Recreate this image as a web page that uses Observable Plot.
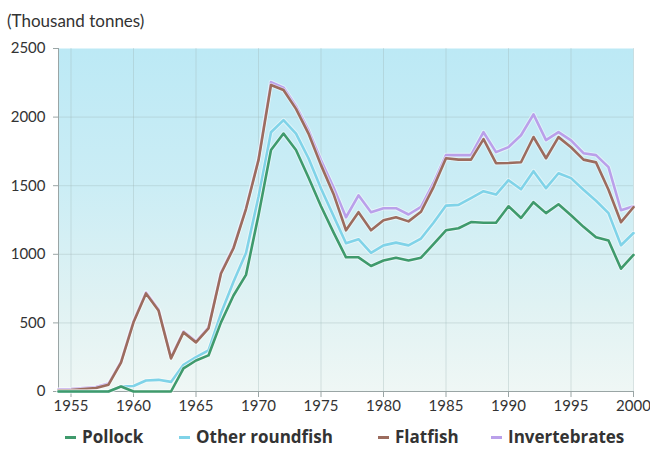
<!DOCTYPE html>
<html><head><meta charset="utf-8">
<script src="https://cdn.jsdelivr.net/npm/d3@7"></script>
<script src="https://cdn.jsdelivr.net/npm/@observablehq/plot@0.6"></script>
<style>
body{margin:0;background:#fff;font-family:Lato,"Open Sans",sans-serif;}
#wrap{position:relative;width:650px;height:453px;overflow:hidden;}
#title{position:absolute;left:7px;top:12px;font-size:17px;color:#333;line-height:18px;}
#chart{position:absolute;left:0;top:30px;}
.leg{position:absolute;top:428px;font-family:"Open Sans",sans-serif;font-size:17px;font-weight:bold;color:#333;display:flex;align-items:center;line-height:18px;}
.leg .sw{display:inline-block;width:11px;height:3px;margin-right:6px;}
</style></head><body>
<div id="wrap">
<div id="title">(Thousand tonnes)</div>
<div id="chart"></div>
<div id="legend"></div>
</div>
<script>
const years = d3.range(1954, 2001);
const seriesNames = ["Pollock", "Other roundfish", "Flatfish", "Invertebrates"];
const seriesColors = ["#3f9a6c", "#80d3e8", "#9c6c5e", "#baa0ea"];
const xTicks = [1955,1960,1965,1970,1975,1980,1985,1990,1995,2000];
const yTicks = [0,500,1000,1500,2000,2500];

// cumulative (stacked) totals, thousand tonnes
const pollock = [0,0,0,0,0,36,0,0,0,0,168,226,263,504,700,850,1285,1760,1880,1760,1560,1350,1160,978,978,915,955,975,955,975,1075,1175,1190,1235,1230,1230,1350,1265,1380,1300,1365,1285,1200,1124,1100,895,995];
const otherRoundfish = [0,0,0,0,0,36,40,80,85,70,195,250,300,570,800,1010,1420,1890,1978,1880,1700,1480,1280,1080,1110,1010,1065,1085,1065,1115,1230,1355,1360,1410,1460,1435,1540,1474,1606,1482,1591,1555,1470,1390,1300,1066,1155];
const flatfish = [8,10,18,25,50,210,504,715,591,241,431,358,460,860,1044,1330,1686,2234,2197,2060,1880,1650,1440,1175,1307,1175,1248,1270,1240,1310,1490,1700,1690,1690,1840,1664,1665,1671,1855,1700,1854,1780,1690,1670,1470,1234,1343];
const invertebrates = [16,18,26,33,58,218,512,723,599,249,439,366,468,868,1052,1338,1694,2255,2215,2080,1905,1686,1489,1270,1430,1307,1336,1336,1290,1345,1520,1723,1723,1723,1890,1745,1781,1868,2020,1832,1890,1830,1737,1723,1635,1321,1350];

const seriesValues = [pollock, otherRoundfish, flatfish, invertebrates];
const table = [];
seriesNames.forEach((s, k) => years.forEach((yr, i) => table.push({year: yr, series: s, value: seriesValues[k][i]})));

const font = "Lato, 'Open Sans', sans-serif";
const lineMarks = [3,2,1,0].map(k => [
  Plot.line(table.filter(d => d.series === seriesNames[k]), {x: "year", y: "value", stroke: "#ffffff", strokeOpacity: 0.45, strokeWidth: 4.5, strokeLinejoin: "round"}),
  Plot.line(table.filter(d => d.series === seriesNames[k]), {x: "year", y: "value", stroke: "series", strokeWidth: 2.6, strokeLinejoin: "round"})
]).flat();

const chart = Plot.plot({
  width: 650, height: 391,
  marginTop: 18, marginLeft: 58, marginRight: 17, marginBottom: 30,
  style: {fontFamily: font, fontSize: "15px", color: "#333", background: "transparent", overflow: "visible"},
  x: {domain: [1954, 2000], label: null},
  y: {domain: [0, 2500], label: null},
  color: {domain: seriesNames, range: seriesColors},
  marks: [
    Plot.frame({fill: "url(#bgGrad)", stroke: null}),
    Plot.gridX(xTicks, {stroke: "#9fb4b4", strokeOpacity: 0.35}),
    Plot.gridY(yTicks.slice(1, -1), {stroke: "#9fb4b4", strokeOpacity: 0.35}),
    Plot.ruleX([1954], {stroke: "#9aa5a5"}),
    Plot.ruleY([0], {stroke: "#9aa5a5"}),
    Plot.axisX(xTicks, {tickFormat: d => String(d), tickSize: 6, tickPadding: 3, stroke: "#9aa5a5", fill: "#333"}),
    Plot.axisY(yTicks, {tickFormat: d => String(d), tickSize: 5, tickPadding: 8, stroke: "#9aa5a5", fill: "#333"}),
    ...lineMarks
  ]
});

const svg = d3.select(chart);
const defs = svg.insert("defs", ":first-child");
const g = defs.append("linearGradient").attr("id", "bgGrad").attr("x1", 0).attr("y1", 0).attr("x2", 0).attr("y2", 1);
[[0, "#bce9f5"], [0.4, "#cbedf5"], [0.75, "#e0f2f3"], [1, "#eff7f5"]].forEach(([o, c]) => g.append("stop").attr("offset", o).attr("stop-color", c));
document.getElementById("chart").appendChild(chart);

const legX = [65, 179, 378, 491];
const leg = document.getElementById("legend");
seriesNames.forEach((s, k) => {
  const d = document.createElement("div");
  d.className = "leg";
  d.style.left = legX[k] + "px";
  d.innerHTML = `<span class="sw" style="background:${seriesColors[k]}"></span>${s}`;
  leg.appendChild(d);
});
</script>
</body></html>
